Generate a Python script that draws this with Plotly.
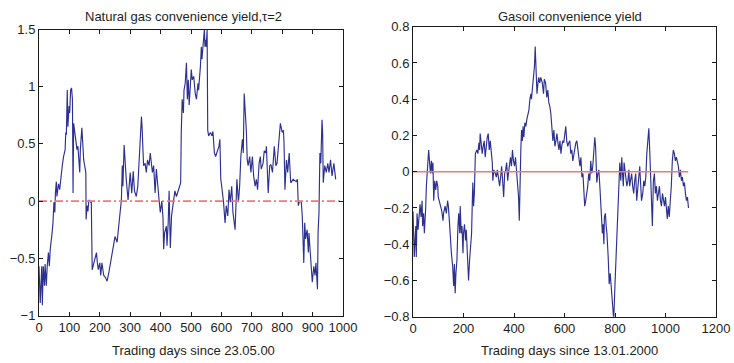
import plotly.graph_objects as go

# ---------------- data ----------------
gas_days = [0, 4, 9, 11, 14, 18, 20, 22, 24, 27,
            31, 34, 37, 43, 46, 49, 52, 54, 57, 59,
            64, 68, 73, 77, 81, 86, 88, 90, 93, 95,
            99, 101, 104, 107, 110, 112, 114, 117, 121, 125,
            128, 134, 136, 141, 147, 151, 154, 155, 158, 161,
            164, 170, 172, 175, 180, 189, 192, 195, 200, 203,
            207, 213, 219, 224, 230, 238, 243, 250, 257, 261,
            268, 271, 274, 276, 280, 283, 287, 293, 300, 305,
            310, 314, 320, 325, 329, 331, 333, 337, 339, 342,
            344, 349, 353, 357, 362, 366, 370, 373, 377, 382,
            386, 390, 395, 399, 404, 408, 410, 413, 419, 421,
            425, 428, 432, 436, 443, 447, 452, 458, 463, 466,
            468, 471, 475, 477, 481, 485, 488, 491, 494, 501,
            504, 509, 514, 518, 523, 525, 531, 534, 536, 541,
            544, 546, 548, 550, 553, 555, 558, 564, 569, 572,
            577, 581, 586, 592, 595, 598, 601, 607, 612, 616,
            621, 625, 629, 634, 638, 645, 651, 656, 660, 664,
            669, 672, 675, 679, 682, 685, 688, 693, 697, 702,
            706, 711, 715, 719, 724, 728, 731, 737, 741, 746,
            748, 754, 759, 763, 768, 774, 779, 783, 787, 794,
            800, 804, 806, 809, 814, 818, 823, 828, 836, 846,
            850, 853, 857, 863, 866, 871, 874, 877, 882, 886,
            888, 893, 895, 899, 904, 908, 911, 914, 916, 918,
            921, 924, 927, 931, 933, 935, 940, 945, 950, 954,
            959, 964, 970, 976]
gas_vals = [-0.57, -0.89, -0.57, -0.91, -0.57, -0.74, -0.55, -0.71, -0.74, -0.57,
            -0.45, -0.57, -0.42, -0.28, -0.19, -0.01, -0.10, 0.07, 0.17, 0.04,
            0.15, 0.10, 0.25, 0.32, 0.39, 0.45, 0.60, 0.58, 0.97, 0.65,
            0.83, 0.77, 0.97, 0.99, 0.89, 0.07, 0.68, 0.62, 0.51, 0.45,
            0.48, 0.25, 0.45, 0.64, 0.36, 0.31, 0.25, -0.16, -0.04, -0.09,
            0.01, -0.01, 0.00, -0.60, -0.54, -0.45, -0.54, -0.60, -0.54, -0.65,
            -0.54, -0.65, -0.67, -0.70, -0.62, -0.51, -0.42, -0.31, -0.36, -0.25,
            -0.10, 0.01, 0.31, 0.13, 0.49, 0.31, 0.19, 0.01, 0.25, 0.07,
            0.26, 0.09, 0.04, 0.13, 0.33, 0.39, 0.51, 0.74, 0.65, 0.48,
            0.31, 0.33, 0.25, 0.36, 0.31, 0.42, 0.33, 0.25, 0.31, 0.07,
            0.28, 0.13, 0.01, -0.10, 0.00, -0.15, -0.42, -0.28, -0.22, -0.39,
            -0.19, 0.09, -0.41, -0.13, -0.01, 0.09, 0.04, 0.10, 0.13, 0.16,
            0.60, 0.89, 0.77, 0.97, 1.03, 1.21, 0.89, 1.06, 0.84, 1.15,
            1.06, 1.09, 0.94, 0.89, 1.03, 0.97, 1.18, 1.35, 1.24, 1.47,
            1.50, 1.35, 1.41, 1.35, 1.50, 0.62, 0.57, 0.60, 0.57, 0.61,
            0.42, 0.39, 0.44, 0.48, 0.54, 0.19, 0.13, -0.01, -0.19, -0.04,
            -0.13, 0.10, -0.01, 0.13, -0.10, -0.25, 0.19, -0.01, 0.13, 0.39,
            0.54, 0.42, 0.94, 0.80, 0.62, 0.36, 0.31, 0.39, 0.25, 0.39,
            0.22, 0.13, 0.19, 0.10, 0.33, 0.39, 0.28, 0.33, 0.44, 0.42,
            0.48, 0.07, 0.31, 0.32, 0.25, 0.48, 0.31, 0.33, 0.48, 0.68,
            0.60, 0.62, 0.51, 0.10, 0.36, 0.25, 0.42, 0.16, 0.19, 0.17,
            0.19, -0.04, 0.00, -0.01, -0.13, -0.54, -0.19, -0.33, -0.25, -0.45,
            -0.28, -0.48, -0.62, -0.71, -0.57, -0.65, -0.54, -0.74, -0.77, -0.28,
            -0.10, 0.42, 0.33, 0.71, 0.60, 0.16, 0.31, 0.25, 0.33, 0.25,
            0.36, 0.22, 0.33, 0.19]

oil_days = [0, 3, 5, 8, 11, 13, 16, 20, 24, 28,
            32, 36, 38, 42, 45, 47, 50, 53, 55, 58,
            62, 66, 69, 73, 76, 79, 82, 86, 90, 94,
            98, 100, 104, 108, 113, 119, 121, 127, 132, 137,
            140, 144, 148, 152, 157, 161, 164, 167, 170, 174,
            178, 181, 185, 187, 191, 194, 198, 200, 204, 208,
            211, 218, 220, 224, 228, 232, 235, 237, 240, 243,
            247, 253, 257, 261, 264, 266, 270, 274, 278, 282,
            286, 290, 294, 298, 302, 306, 310, 314, 316, 320,
            326, 330, 334, 339, 343, 347, 351, 355, 359, 363,
            367, 371, 375, 378, 382, 386, 390, 394, 398, 402,
            406, 410, 414, 418, 421, 423, 427, 430, 433, 436,
            439, 443, 447, 451, 455, 459, 463, 467, 469, 473,
            477, 481, 484, 488, 491, 495, 498, 502, 506, 512,
            517, 520, 525, 530, 534, 538, 542, 546, 550, 554,
            558, 562, 566, 570, 574, 578, 582, 586, 589, 593,
            597, 601, 605, 609, 613, 617, 621, 625, 629, 633,
            637, 641, 645, 649, 653, 657, 661, 665, 669, 673,
            676, 680, 684, 688, 692, 696, 700, 704, 708, 712,
            716, 720, 723, 725, 728, 732, 736, 740, 744, 748,
            750, 753, 756, 758, 762, 765, 768, 773, 777, 781,
            787, 791, 795, 800, 806, 811, 815, 819, 823, 827,
            829, 833, 836, 840, 843, 847, 851, 855, 858, 862,
            866, 870, 874, 878, 882, 886, 890, 894, 898, 902,
            905, 910, 914, 918, 922, 926, 930, 934, 938, 942,
            944, 948, 952, 956, 960, 964, 968, 972, 976, 980,
            984, 988, 992, 996, 1000, 1004, 1007, 1011, 1015, 1019,
            1023, 1027, 1031, 1035, 1039, 1043, 1047, 1051, 1055, 1059,
            1063, 1067, 1071, 1075, 1079, 1083, 1087, 1091]
oil_vals = [-0.22, -0.35, -0.47, -0.38, -0.30, -0.47, -0.23, -0.32, -0.21, -0.18,
            -0.25, -0.16, -0.30, -0.23, -0.34, -0.30, -0.21, -0.08, -0.05, 0.03,
            0.12, 0.06, -0.01, 0.06, -0.01, 0.05, -0.16, -0.05, -0.10, -0.05,
            -0.08, -0.14, -0.16, -0.19, -0.21, -0.27, -0.23, -0.19, -0.23, -0.16,
            -0.19, -0.27, -0.38, -0.45, -0.52, -0.63, -0.51, -0.67, -0.56, -0.49,
            -0.30, -0.23, -0.34, -0.19, -0.34, -0.30, -0.45, -0.34, -0.29, -0.38,
            -0.32, -0.56, -0.60, -0.49, -0.40, -0.34, -0.16, -0.06, -0.19, -0.12,
            0.10, 0.12, 0.10, 0.16, 0.12, 0.21, 0.16, 0.10, 0.14, 0.17,
            0.08, 0.16, 0.19, 0.21, 0.12, 0.17, 0.10, 0.05, -0.05, 0.01,
            -0.01, -0.03, 0.01, -0.05, -0.08, -0.03, 0.03, -0.05, -0.14, -0.01,
            0.01, 0.05, -0.05, -0.01, 0.06, 0.08, 0.03, 0.12, 0.06, 0.03,
            0.08, 0.01, -0.05, -0.14, -0.27, -0.03, 0.12, 0.23, 0.17, 0.25,
            0.19, 0.27, 0.25, 0.29, 0.32, 0.34, 0.40, 0.43, 0.40, 0.47,
            0.49, 0.58, 0.69, 0.54, 0.43, 0.49, 0.52, 0.49, 0.52, 0.49,
            0.43, 0.51, 0.49, 0.41, 0.45, 0.38, 0.36, 0.32, 0.21, 0.17,
            0.23, 0.14, 0.17, 0.21, 0.16, 0.12, 0.17, 0.10, 0.14, 0.17,
            0.16, 0.21, 0.25, 0.17, 0.14, 0.16, 0.17, 0.10, 0.12, 0.06,
            0.10, 0.14, 0.16, 0.17, 0.12, 0.08, 0.03, 0.08, -0.03, -0.01,
            -0.10, -0.19, -0.16, -0.12, -0.08, -0.01, -0.05, 0.06, -0.01, 0.03,
            0.10, 0.19, 0.14, -0.01, -0.06, -0.01, 0.01, -0.08, -0.19, -0.27,
            -0.34, -0.29, -0.40, -0.25, -0.23, -0.30, -0.34, -0.47, -0.62, -0.56,
            -0.67, -0.71, -0.82, -0.62, -0.38, -0.16, -0.06, 0.05, -0.05, 0.08,
            0.01, -0.08, 0.05, -0.01, -0.03, -0.08, -0.05, 0.01, -0.08, -0.05,
            -0.01, -0.08, -0.12, -0.05, -0.01, -0.16, -0.08, -0.01, 0.03, -0.08,
            -0.16, -0.12, -0.05, -0.08, -0.03, 0.10, 0.16, 0.24, 0.10, -0.03,
            -0.14, -0.30, -0.05, -0.01, -0.12, -0.08, -0.16, -0.12, -0.08, -0.16,
            -0.19, -0.12, -0.16, -0.19, -0.14, -0.23, -0.26, -0.19, -0.25, -0.16,
            -0.08, 0.06, 0.12, 0.10, 0.06, 0.08, 0.05, 0.03, -0.03, 0.01,
            -0.05, -0.03, -0.08, -0.06, -0.12, -0.16, -0.14, -0.20]

gas_zero_x = [0, 1000]
oil_zero_x = [0, 1090]
zero_level = [0, 0]

gas_xticks = [0, 100, 200, 300, 400, 500, 600, 700, 800, 900, 1000]
gas_yticks = [-1, -0.5, 0, 0.5, 1, 1.5]
oil_xticks = [0, 200, 400, 600, 800, 1000, 1200]
oil_yticks = [-0.8, -0.6, -0.4, -0.2, 0, 0.2, 0.4, 0.6, 0.8]

title_gas = "Natural gas convenience yield,τ=2"
title_oil = "Gasoil convenience yield"
xlabel_gas = "Trading days since 23.05.00"
xlabel_oil = "Trading days since 13.01.2000"

# ---------------- figure ----------------
W, H = 734, 363
BLUE = "#2C3190"
RED = "#EC7A7A"
FONT = "Liberation Sans, Arial, Helvetica, sans-serif"
TXT = "#1e1e1e"

fig = go.Figure()
fig.add_trace(go.Scatter(x=gas_days, y=gas_vals, mode="lines",
                         line=dict(color=BLUE, width=1.15), xaxis="x", yaxis="y",
                         hoverinfo="skip"))
fig.add_trace(go.Scatter(x=gas_zero_x, y=zero_level, mode="lines",
                         line=dict(color=RED, width=1.6, dash="8px,3px,2px,3px"),
                         xaxis="x", yaxis="y", hoverinfo="skip"))
fig.add_trace(go.Scatter(x=oil_days, y=oil_vals, mode="lines",
                         line=dict(color=BLUE, width=1.15), xaxis="x2", yaxis="y2",
                         hoverinfo="skip"))
fig.add_trace(go.Scatter(x=oil_zero_x, y=zero_level, mode="lines",
                         line=dict(color=RED, width=1.6),
                         xaxis="x2", yaxis="y2", hoverinfo="skip"))


def ax(**kw):
    d = dict(showline=True, linecolor="#1a1a1a", linewidth=1, mirror="ticks",
             ticks="inside", ticklen=4, tickcolor="#1a1a1a", tickwidth=1,
             showgrid=False, zeroline=False, automargin=False, fixedrange=True,
             tickfont=dict(family=FONT, size=13, color=TXT))
    d.update(kw)
    return d


def fx(px):
    return px / W


def fy(py):
    return (H - py) / H


def px_x(a, b):
    return [fx(a), fx(b)]


def px_y(top, bottom):
    return [fy(bottom), fy(top)]


def label(text, x, y):
    return dict(text=text, x=fx(x), y=fy(y), xref="paper", yref="paper",
                showarrow=False, xanchor="center", yanchor="middle",
                font=dict(family=FONT, size=13, color=TXT))


fig.update_layout(
    template="none",
    width=W, height=H,
    margin=dict(l=0, r=0, t=0, b=0, autoexpand=False),
    paper_bgcolor="white", plot_bgcolor="white",
    showlegend=False,
    hovermode=False,
    xaxis=ax(domain=px_x(39, 343), range=[0, 1000], tickvals=gas_xticks, anchor="y"),
    yaxis=ax(domain=px_y(29.5, 315.5), range=[-1, 1.5], tickvals=gas_yticks, anchor="x"),
    xaxis2=ax(domain=px_x(413, 716), range=[0, 1200], tickvals=oil_xticks, anchor="y2"),
    yaxis2=ax(domain=px_y(26.7, 316.7), range=[-0.8, 0.8], tickvals=oil_yticks, anchor="x2"),
    annotations=[
        label(title_gas, 183, 16),
        label(title_oil, 570, 16),
        label(xlabel_gas, 193, 350),
        label(xlabel_oil, 569, 350),
    ],
)

# remove the default 8px page margin so the figure fills the window exactly
fig.write_html(
    "out.html",
    config={"displayModeBar": False, "staticPlot": True},
    post_script="document.body.style.margin='0px';document.body.style.overflow='hidden';",
)
